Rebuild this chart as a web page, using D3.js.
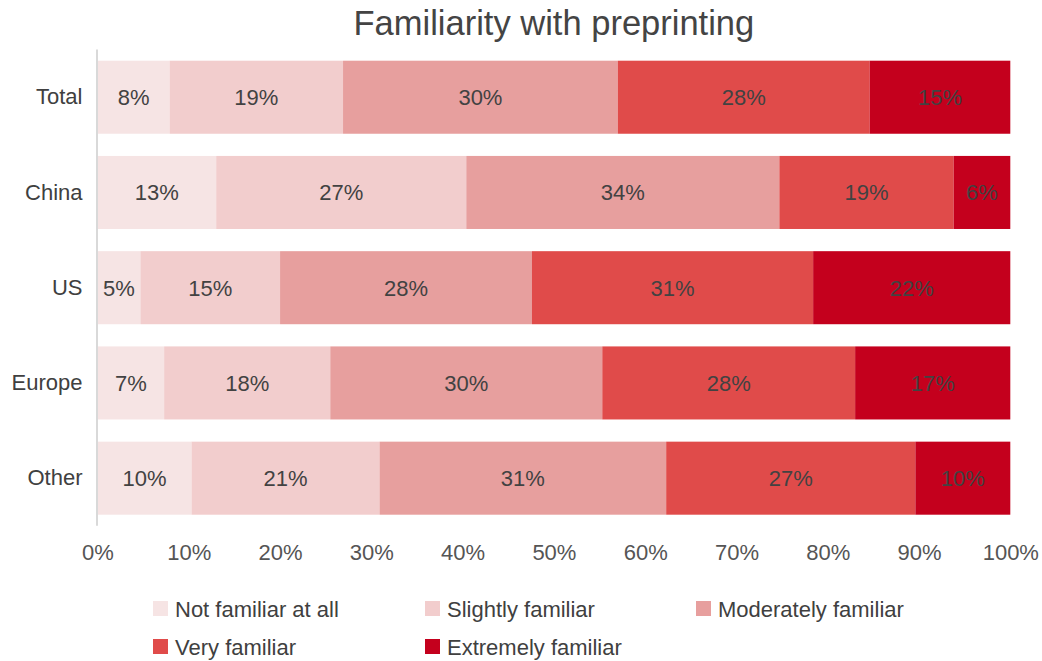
<!DOCTYPE html>
<html>
<head>
<meta charset="utf-8">
<script src="https://cdn.jsdelivr.net/npm/d3@7"></script>
<style>
  html, body { margin: 0; padding: 0; background: #fff; }
  svg { display: block; font-family: "Liberation Sans", Arial, Helvetica, sans-serif; }
</style>
</head>
<body>
<svg id="chart" width="1042" height="661"></svg>
<script>
// Survey answers: share of respondents (%) per region and familiarity level
const regions = ["Total", "China", "US", "Europe", "Other"];
const levels = ["Not familiar at all", "Slightly familiar", "Moderately familiar", "Very familiar", "Extremely familiar"];
const notFamiliar      = [7.9, 13.0, 4.7, 7.3, 10.3];
const slightlyFamiliar = [19.0, 27.4, 15.3, 18.2, 20.6];
const moderatelyFam    = [30.1, 34.3, 27.6, 29.8, 31.4];
const veryFamiliar     = [27.6, 19.1, 30.8, 27.7, 27.3];
const extremelyFam     = [15.4, 6.2, 21.6, 17.0, 10.4];
const xTicks = [0, 10, 20, 30, 40, 50, 60, 70, 80, 90, 100];
const colors = ["#f6e4e4", "#f2cdcd", "#e79f9e", "#e04b4a", "#c4001d"];

const seriesValues = [notFamiliar, slightlyFamiliar, moderatelyFam, veryFamiliar, extremelyFam];
const rows = regions.map((r, i) => {
  const o = { region: r };
  levels.forEach((l, j) => { o[l] = seriesValues[j][i]; });
  return o;
});

const svg = d3.select("#chart");
const margin = { left: 97.5, right: 31.7, top: 49.6, bottom: 135.2 };
const W = 1042, H = 661;
const FS = 22;

const x = d3.scaleLinear().domain([0, 100]).range([margin.left, W - margin.right]);
const y = d3.scaleBand().domain(regions).range([margin.top, H - margin.bottom])
  .paddingInner(0.233).paddingOuter(0.1165);
const color = d3.scaleOrdinal().domain(levels).range(colors);

const stacked = d3.stack().keys(levels)(rows);

// Title, centred over the plot area
svg.append("text")
  .attr("x", (x.range()[0] + x.range()[1]) / 2)
  .attr("y", 35)
  .attr("text-anchor", "middle")
  .attr("font-size", 34.5)
  .attr("fill", "#444")
  .text("Familiarity with preprinting");

// Bars
const layer = svg.append("g").selectAll("g").data(stacked).join("g")
  .attr("fill", d => color(d.key));
layer.selectAll("rect").data(d => d).join("rect")
  .attr("x", d => x(d[0]))
  .attr("y", d => y(d.data.region))
  .attr("width", d => x(d[1]) - x(d[0]))
  .attr("height", y.bandwidth());

// Value labels
const fmt = v => Math.round(v) + "%";
const labels = svg.append("g").attr("font-size", FS).attr("fill", "#424242").attr("text-anchor", "middle");
stacked.forEach(s => {
  labels.selectAll(null).data(s).join("text")
    .attr("x", d => (x(d[0]) + x(d[1])) / 2)
    .attr("y", d => y(d.data.region) + y.bandwidth() / 2)
    .attr("dy", "0.36em")
    .text(d => fmt(d[1] - d[0]));
});

// Y axis (categories)
const yAxis = svg.append("g")
  .attr("transform", `translate(${margin.left},0)`)
  .call(d3.axisLeft(y).tickSize(0).tickPadding(15));
yAxis.select(".domain").attr("stroke", "#d9d9d9").attr("stroke-width", 2)
  .attr("d", `M-0.5,${margin.top}V${H - margin.bottom}`);
yAxis.selectAll("text").attr("font-size", FS).attr("fill", "#404040")
  .attr("font-family", "Liberation Sans, Arial, sans-serif");

// X axis (percent)
const xAxis = svg.append("g")
  .attr("transform", `translate(0,${H - margin.bottom})`)
  .call(d3.axisBottom(x).tickValues(xTicks).tickFormat(d => d + "%").tickSize(0).tickPadding(19));
xAxis.select(".domain").remove();
xAxis.selectAll("text").attr("font-size", FS).attr("fill", "#555")
  .attr("font-family", "Liberation Sans, Arial, sans-serif");

// Legend
const legendPos = [
  [153, 609], [425, 609], [696, 609],
  [153, 647], [425, 647]
];
const legend = svg.append("g").selectAll("g").data(levels).join("g")
  .attr("transform", (d, i) => `translate(${legendPos[i][0]},${legendPos[i][1]})`);
legend.append("rect")
  .attr("x", 0).attr("y", -8).attr("width", 15).attr("height", 15)
  .attr("fill", d => color(d));
legend.append("text")
  .attr("x", 22).attr("y", 0).attr("dy", "0.35em")
  .attr("font-size", FS).attr("fill", "#404040")
  .text(d => d);
</script>
</body>
</html>
